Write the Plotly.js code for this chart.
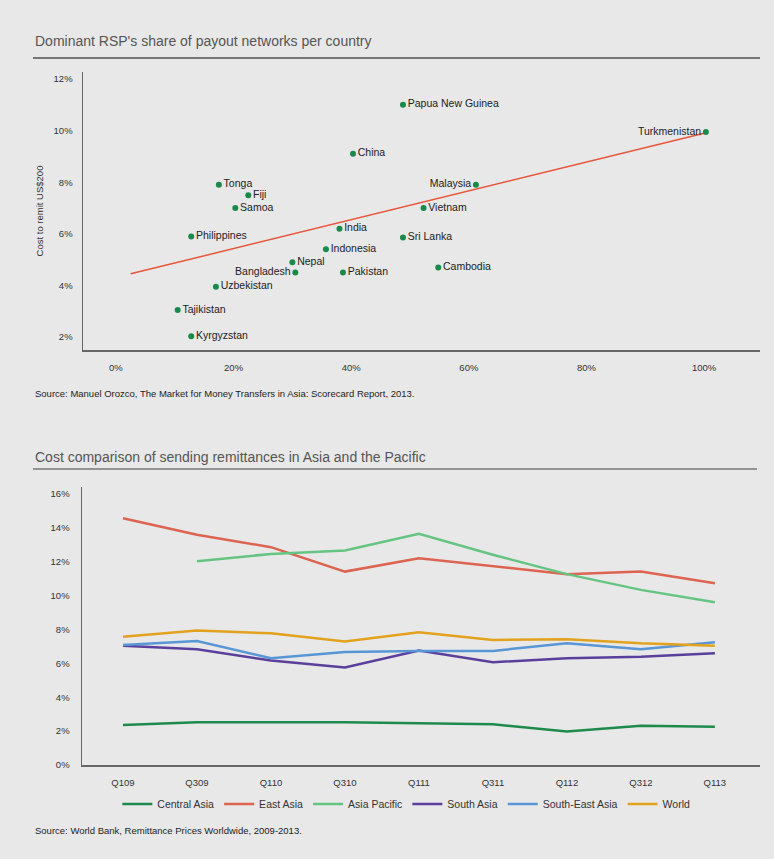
<!DOCTYPE html>
<html><head><meta charset="utf-8">
<script src="https://cdn.plot.ly/plotly-3.0.1.min.js"></script>
<style>html,body{margin:0;padding:0;background:#e8e8e8;}#c{width:774px;height:859px;}</style>
</head><body><div id="c"></div>
<script>
// Top chart data
const countries = ["Tonga","Fiji","Samoa","Philippines","India","Indonesia","Nepal","Bangladesh","Pakistan","Uzbekistan","Tajikistan","Kyrgyzstan","China","Papua New Guinea","Sri Lanka","Vietnam","Malaysia","Cambodia","Turkmenistan"];
const share = [17.5,22.5,20.3,12.8,38.0,35.7,30.0,30.5,38.6,17.0,10.5,12.8,40.3,48.8,48.8,52.3,61.2,54.8,100.3];
const cost = [7.9,7.5,7.0,5.9,6.2,5.4,4.9,4.5,4.5,3.95,3.05,2.03,9.1,11.0,5.86,7.0,7.9,4.7,9.95];
const labelPos = ["middle right","middle right","middle right","middle right","middle right","middle right","middle right","middle left","middle right","middle right","middle right","middle right","middle right","middle right","middle right","middle right","middle left","middle right","middle left"];
const trendX = [2.5, 100];
const trendY = [4.45, 9.9];
const topXTicks = [0,20,40,60,80,100];
const topXLabels = ["0%","20%","40%","60%","80%","100%"];
const topYTicks = [2,4,6,8,10,12];
const topYLabels = ["2%","4%","6%","8%","10%","12%"];

// Bottom chart data
const quarters = ["Q109","Q309","Q110","Q310","Q111","Q311","Q112","Q312","Q113"];
const centralAsia = [2.36,2.52,2.52,2.52,2.46,2.40,1.97,2.32,2.26];
const eastAsia = [14.56,13.58,12.85,11.41,12.20,11.71,11.26,11.41,10.72];
const asiaPacific = [null,12.02,12.45,12.65,13.64,12.40,11.26,10.33,9.60];
const southAsia = [7.04,6.83,6.16,5.75,6.75,6.06,6.30,6.39,6.59];
const southEastAsia = [7.08,7.32,6.30,6.67,6.73,6.73,7.18,6.83,7.24];
const world = [7.57,7.93,7.77,7.28,7.83,7.38,7.42,7.18,7.04];
const botYTicks = [0,2,4,6,8,10,12,14,16];
const botYLabels = ["0%","2%","4%","6%","8%","10%","12%","14%","16%"];

const fam = "Liberation Sans, Arial, sans-serif";
const W=774,H=859;
const px = v => v/W, py = v => (H-v)/H;

const traces = [
  {x: trendX, y: trendY, xaxis:'x', yaxis:'y', mode:'lines', line:{color:'#e8553a', width:1.5}, showlegend:false, hoverinfo:'skip'},
  {x: share, y: cost, text: countries, textposition: labelPos, xaxis:'x', yaxis:'y', mode:'markers+text',
   marker:{color:'#1a8a4a', size:6}, textfont:{family:fam, size:10.5, color:'#222'}, showlegend:false, cliponaxis:false},
  {x: quarters, y: centralAsia, xaxis:'x2', yaxis:'y2', mode:'lines', name:'Central Asia', line:{color:'#1e8a4c', width:2.5}},
  {x: quarters, y: eastAsia, xaxis:'x2', yaxis:'y2', mode:'lines', name:'East Asia', line:{color:'#dc6450', width:2.5}},
  {x: quarters, y: asiaPacific, xaxis:'x2', yaxis:'y2', mode:'lines', name:'Asia Pacific', line:{color:'#66c482', width:2.5}},
  {x: quarters, y: southAsia, xaxis:'x2', yaxis:'y2', mode:'lines', name:'South Asia', line:{color:'#5b3f9c', width:2.5}},
  {x: quarters, y: southEastAsia, xaxis:'x2', yaxis:'y2', mode:'lines', name:'South-East Asia', line:{color:'#5896d6', width:2.5}},
  {x: quarters, y: world, xaxis:'x2', yaxis:'y2', mode:'lines', name:'World', line:{color:'#e2a21e', width:2.5}}
];

const tickFont = {family: fam, size: 9.5, color:'#333'};
const layout = {
  width: W, height: H,
  margin:{l:0,r:0,t:0,b:0},
  paper_bgcolor:'#e8e8e8', plot_bgcolor:'#e8e8e8',
  xaxis:{domain:[px(83),px(760)], range:[-5.6,109.5], tickmode:'array', tickvals:topXTicks, ticktext:topXLabels, showgrid:false, zeroline:false,
         showline:true, linecolor:'#666', linewidth:1.5, ticks:'', tickfont:tickFont, anchor:'y', ticklabelstandoff:8},
  yaxis:{domain:[py(350),py(72)], range:[1.5,12.27], tickmode:'array', tickvals:topYTicks, ticktext:topYLabels, showgrid:false, zeroline:false,
         showline:true, linecolor:'#666', linewidth:1.5, ticks:'', tickfont:tickFont, anchor:'x', ticklabelstandoff:7,
         title:{text:'Cost to remit US$200', font:{family:fam, size:9.5, color:'#333'}, standoff:8}},
  xaxis2:{domain:[px(82),px(760)], range:[-0.554,8.61], type:'category', showgrid:false, zeroline:false,
         showline:true, linecolor:'#666', linewidth:1.5, ticks:'', tickfont:tickFont, anchor:'y2', ticklabelstandoff:8},
  yaxis2:{domain:[py(765),py(487)], range:[0,16.4], tickmode:'array', tickvals:botYTicks, ticktext:botYLabels, showgrid:false, zeroline:false,
         showline:true, linecolor:'#666', linewidth:1.5, ticks:'', tickfont:tickFont, anchor:'x2', ticklabelstandoff:9},
  showlegend:true,
  legend:{orientation:'h', x:0.525, xanchor:'center', y:py(804), yanchor:'middle', font:{family:fam, size:10.5, color:'#333'},
          bgcolor:'rgba(0,0,0,0)', itemwidth:30, tracegroupgap:0},
  shapes:[
    {type:'line', xref:'paper', yref:'paper', x0:px(33), x1:px(760), y0:py(58), y1:py(58), line:{color:'#777', width:2}},
    {type:'line', xref:'paper', yref:'paper', x0:px(33), x1:px(757), y0:py(469), y1:py(469), line:{color:'#777', width:1.5}}
  ],
  annotations:[
    {text:"Dominant RSP's share of payout networks per country", xref:'paper', yref:'paper', x:px(33), y:py(41), xanchor:'left', yanchor:'middle', showarrow:false,
     font:{family:fam, size:14, color:'#555'}},
    {text:"Cost comparison of sending remittances in Asia and the Pacific", xref:'paper', yref:'paper', x:px(33), y:py(457), xanchor:'left', yanchor:'middle', showarrow:false,
     font:{family:fam, size:14, color:'#555'}},
    {text:"Source: Manuel Orozco, The Market for Money Transfers in Asia: Scorecard Report, 2013.", xref:'paper', yref:'paper', x:px(33), y:py(393), xanchor:'left', yanchor:'middle', showarrow:false,
     font:{family:fam, size:9.5, color:'#222'}},
    {text:"Source: World Bank, Remittance Prices Worldwide, 2009-2013.", xref:'paper', yref:'paper', x:px(33), y:py(830), xanchor:'left', yanchor:'middle', showarrow:false,
     font:{family:fam, size:9.5, color:'#222'}}
  ]
};
Plotly.newPlot('c', traces, layout, {staticPlot:true, displayModeBar:false});
</script></body></html>
